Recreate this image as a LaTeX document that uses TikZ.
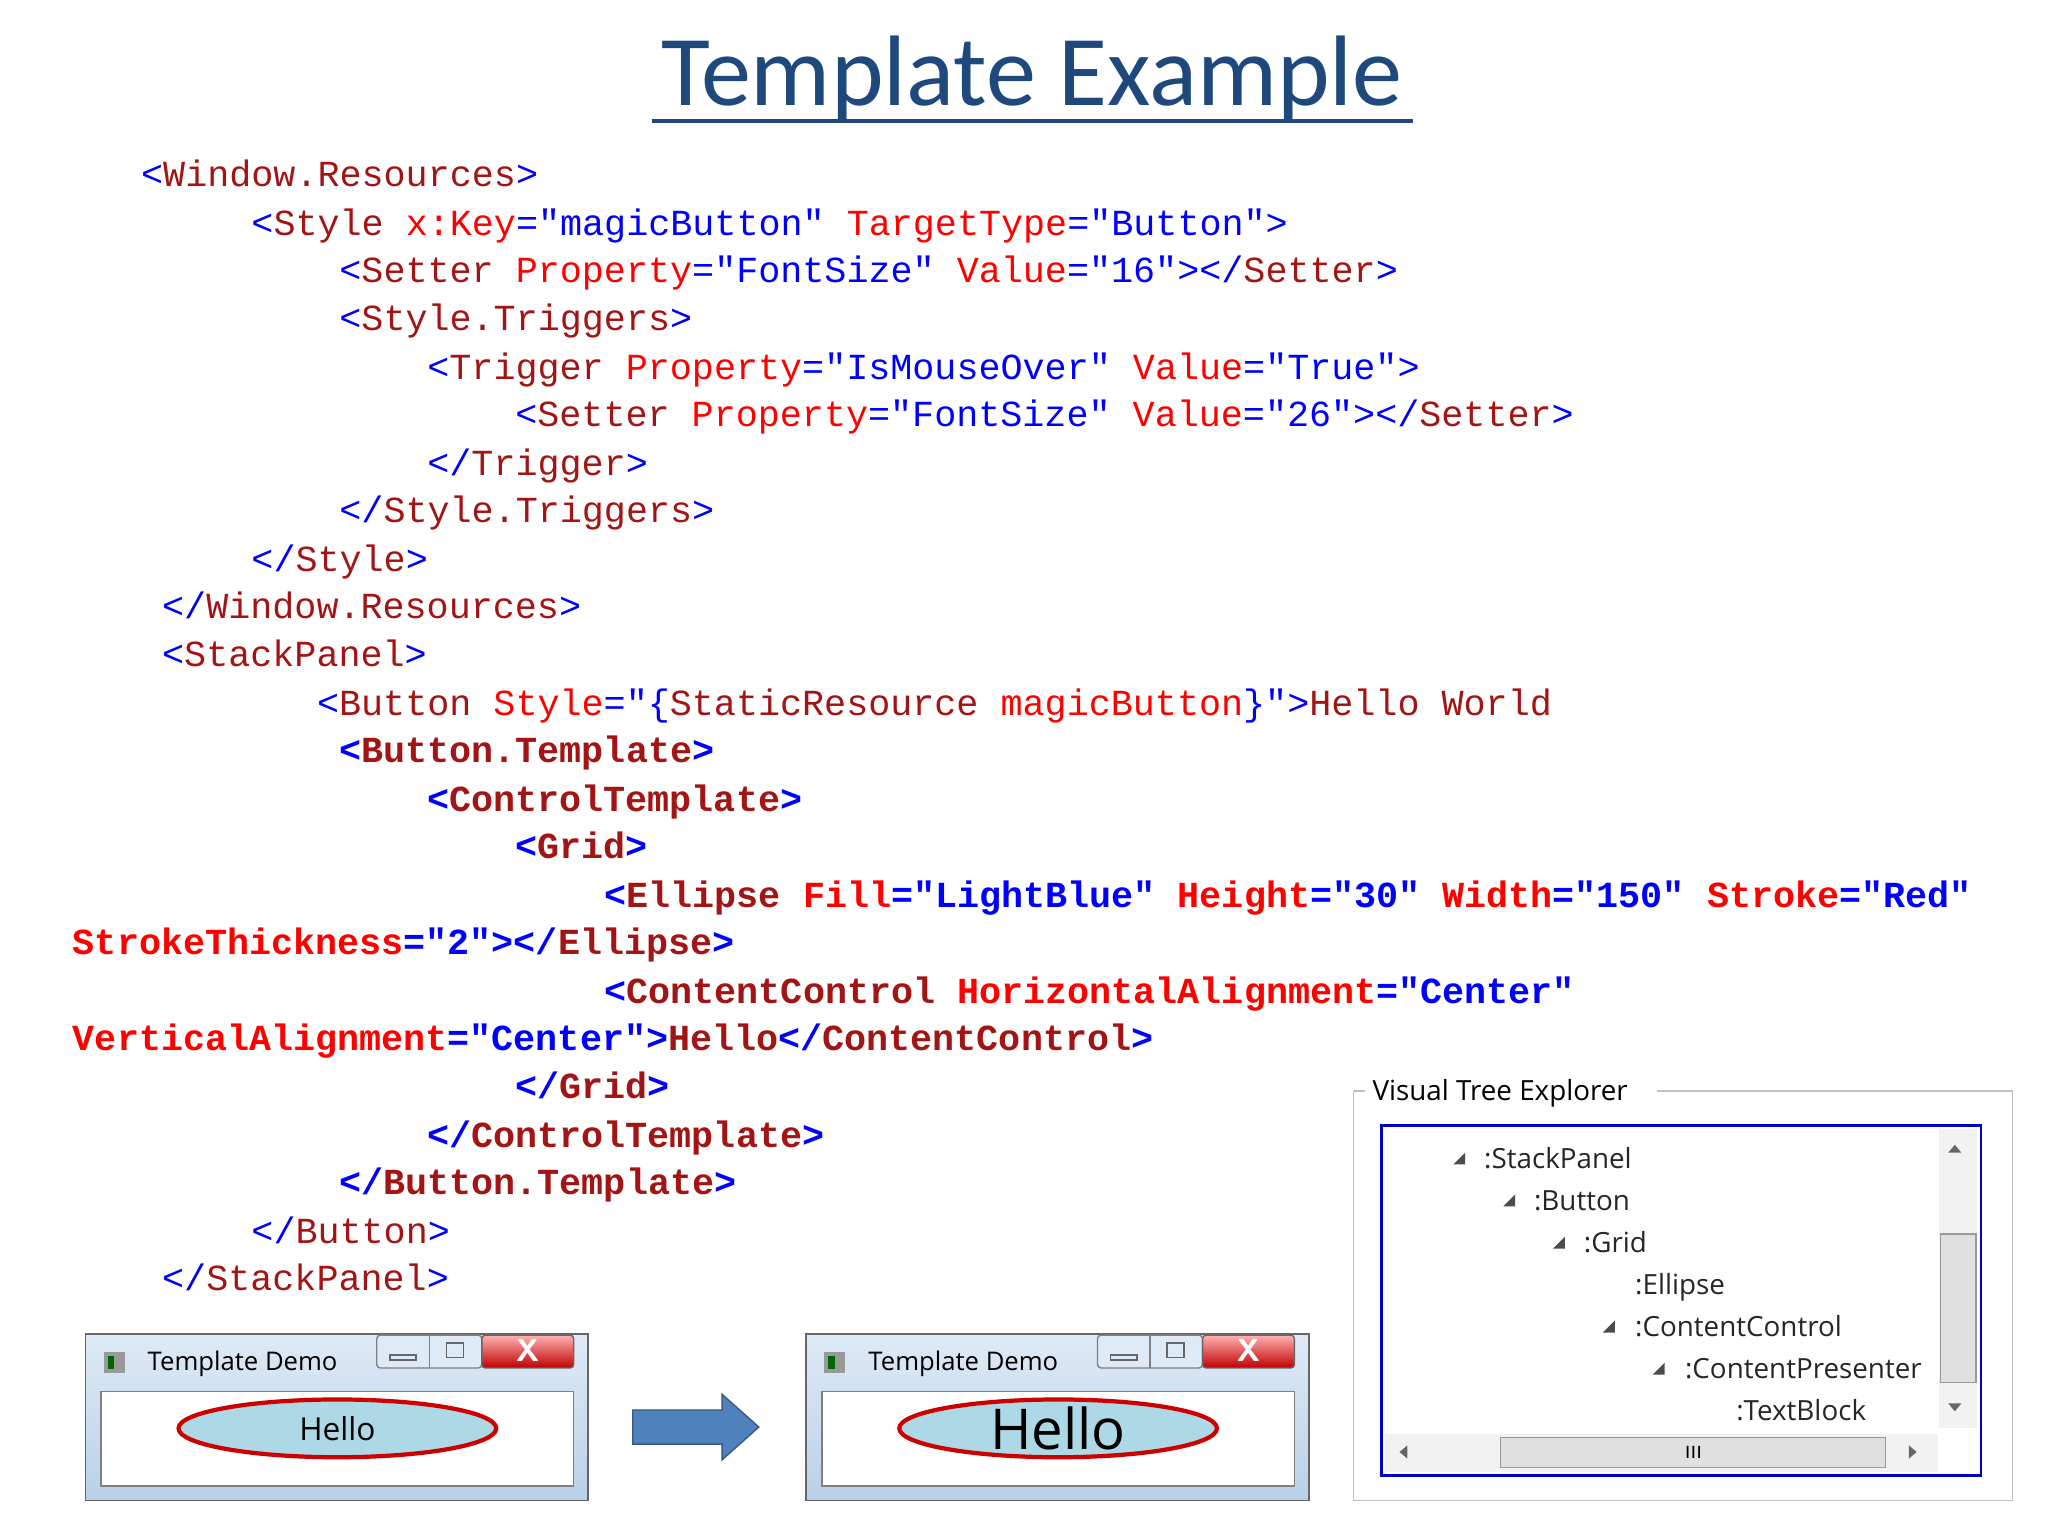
\documentclass[tikz,border=0pt]{standalone}
\usepackage{fontspec}
\setmainfont{Carlito}
\newfontfamily\codefont{Liberation Mono}
\newfontfamily\uifont{Open Sans}
\definecolor{tagb}{RGB}{0,0,255}
\definecolor{eln}{RGB}{163,21,21}
\definecolor{atr}{RGB}{255,0,0}
\definecolor{ttl}{RGB}{31,73,125}
\definecolor{arr}{RGB}{79,129,189}
\definecolor{lblue}{RGB}{173,216,230}
\definecolor{frm1}{RGB}{222,234,246}
\definecolor{frm2}{RGB}{186,208,232}
\newcommand{\tg}[1]{\textcolor{tagb}{#1}}
\newcommand{\el}[1]{\textcolor{eln}{#1}}
\newcommand{\at}[1]{\textcolor{atr}{#1}}
\tikzset{code/.style={anchor=base west,inner sep=0pt,font=\codefont\fontsize{10.45}{12}\selectfont},
 bcode/.style={code,font=\codefont\bfseries\fontsize{10.45}{12}\selectfont},
 tree/.style={anchor=base west,inner sep=0pt,font=\uifont\fontsize{7.9}{10}\selectfont,text=black!85}}
\begin{document}
\begin{tikzpicture}[x=0.013128cm,y=-0.013128cm]
\useasboundingbox (0,0) rectangle (1560,1170);
% title
\node[text=ttl,font=\fontsize{28.5}{32}\selectfont,anchor=base,inner sep=0pt] (title) at (786,80) {Template Example};
\draw[ttl,line width=1.3pt] (497,92) -- (1076,92);
% code
\node[code] (l1) at (107,142) {\tg{<}\el{Window.Resources}\tg{>}};
\node[code] (l2) at (191,179) {\tg{<}\el{Style} \at{x:Key}\tg{="magicButton"} \at{TargetType}\tg{="Button">}};
\node[code] (l3) at (258,215) {\tg{<}\el{Setter} \at{Property}\tg{="FontSize"} \at{Value}\tg{="16"></}\el{Setter}\tg{>}};
\node[code] (l4) at (258,252) {\tg{<}\el{Style.Triggers}\tg{>}};
\node[code] (l5) at (325,289) {\tg{<}\el{Trigger} \at{Property}\tg{="IsMouseOver"} \at{Value}\tg{="True">}};
\node[code] (l6) at (392,325) {\tg{<}\el{Setter} \at{Property}\tg{="FontSize"} \at{Value}\tg{="26"></}\el{Setter}\tg{>}};
\node[code] (l7) at (325,362) {\tg{</}\el{Trigger}\tg{>}};
\node[code] (l8) at (258,398) {\tg{</}\el{Style.Triggers}\tg{>}};
\node[code] (l9) at (191,435) {\tg{</}\el{Style}\tg{>}};
\node[code] (l10) at (123,471) {\tg{</}\el{Window.Resources}\tg{>}};
\node[code] (l11) at (123,508) {\tg{<}\el{StackPanel}\tg{>}};
\node[code] (l12) at (241,545) {\tg{<}\el{Button} \at{Style}\tg{="\{}\el{StaticResource} \at{magicButton}\tg{\}">}\el{Hello World}};
\node[bcode] (l13) at (258,581) {\tg{<}\el{Button.Template}\tg{>}};
\node[bcode] (l14) at (325,618) {\tg{<}\el{ControlTemplate}\tg{>}};
\node[bcode] (l15) at (392,654) {\tg{<}\el{Grid}\tg{>}};
\node[bcode] (l16) at (460,691) {\tg{<}\el{Ellipse} \at{Fill}\tg{="LightBlue"} \at{Height}\tg{="30"} \at{Width}\tg{="150"} \at{Stroke}\tg{="Red"}};
\node[bcode] (l17) at (55,727) {\at{StrokeThickness}\tg{="2"></}\el{Ellipse}\tg{>}};
\node[bcode] (l18) at (460,764) {\tg{<}\el{ContentControl} \at{HorizontalAlignment}\tg{="Center"}};
\node[bcode] (l19) at (55,800) {\at{VerticalAlignment}\tg{="Center">}\el{Hello}\tg{</}\el{ContentControl}\tg{>}};
\node[bcode] (l20) at (392,837) {\tg{</}\el{Grid}\tg{>}};
\node[bcode] (l21) at (325,874) {\tg{</}\el{ControlTemplate}\tg{>}};
\node[bcode] (l22) at (258,910) {\tg{</}\el{Button.Template}\tg{>}};
\node[code] (l23) at (191,947) {\tg{</}\el{Button}\tg{>}};
\node[code] (l24) at (123,983) {\tg{</}\el{StackPanel}\tg{>}};
% windows
\foreach \ox/\fs/\nm in {65/9/w1,614/16/w2}{
\begin{scope}[shift={(\ox,0)}]
\shade[top color=frm1,bottom color=frm2,draw=black!60] (0,1016) rectangle (383,1143);
\fill[white] (12,1060) rectangle (372,1132);
\draw[black!50] (12,1060) rectangle (372,1132);
\fill[black!40] (14,1030) rectangle (30,1046);
\fill[green!40!black] (17,1033) rectangle (22,1043);
\node[anchor=base west,inner sep=0pt,font=\uifont\fontsize{7.3}{9}\selectfont] at (47,1044) {Template Demo};
\draw[black!50,fill=frm1,rounded corners=1pt] (222,1017) rectangle (302,1042);
\draw[black!50] (262,1017) -- (262,1042);
\draw[black!60] (232,1032) rectangle (252,1036);
\draw[black!60] (275,1023) rectangle (288,1034);
\draw[black!60,shading=axis,top color=red!30,bottom color=red!75!black,rounded corners=1pt] (302,1017) rectangle (372,1042);
\node[white,font=\sffamily\bfseries\fontsize{9}{10}\selectfont] at (337,1029) {X};
\draw[red!80!black,line width=1.2pt,fill=lblue] (192,1088) ellipse (121 and 22);
\node[font=\uifont\fontsize{\fs}{\fs}\selectfont,inner sep=0pt] (\nm) at (192,1088) {Hello};
\end{scope}}
\fill[arr,draw=arr!70!black] (482,1074) -- (550,1074) -- (550,1062) -- (578,1087) -- (550,1112) -- (550,1100) -- (482,1100) -- cycle;
% visual tree explorer
\draw[black!25,fill=white] (1031,831) -- (1031,1143) -- (1533,1143) -- (1533,831) -- (1262,831);
\draw[black!25] (1031,831) -- (1040,831);
\node[anchor=base west,inner sep=0pt,font=\uifont\fontsize{7.9}{10}\selectfont] (vte) at (1045,838) {Visual Tree Explorer};
\draw[blue!80!black,line width=0.8pt] (1052,857) rectangle (1509,1124);
\fill[black!5] (1477,860) rectangle (1506,1088);
\fill[black!12] (1478,940) rectangle (1505,1053);
\draw[black!40] (1478,940) rectangle (1505,1053);
\fill[black!60] (1484,878) -- (1494,878) -- (1489,872) -- cycle;
\fill[black!60] (1484,1069) -- (1494,1069) -- (1489,1075) -- cycle;
\fill[black!5] (1055,1092) rectangle (1476,1121);
\fill[black!12] (1143,1095) rectangle (1436,1118);
\draw[black!40] (1143,1095) rectangle (1436,1118);
\node[font=\sffamily\tiny] at (1290,1106) {III};
\fill[black!60] (1066,1106) -- (1072,1101) -- (1072,1111) -- cycle;
\fill[black!60] (1460,1106) -- (1454,1101) -- (1454,1111) -- cycle;
\node[tree] (t1) at (1130,890) {:StackPanel};
\node[tree] (t2) at (1168,922) {:Button};
\node[tree] (t3) at (1206,954) {:Grid};
\node[tree] (t4) at (1245,986) {:Ellipse};
\node[tree] (t5) at (1245,1018) {:ContentControl};
\node[tree] (t6) at (1283,1050) {:ContentPresenter};
\node[tree] (t7) at (1322,1082) {:TextBlock};
\foreach \tx/\ty in {1116/882,1154/914,1192/946,1230/1010,1268/1042}
 \fill[black!70] (\tx-9,\ty+5) -- (\tx,\ty+5) -- (\tx,\ty-4) -- cycle;
\end{tikzpicture}
\end{document}
